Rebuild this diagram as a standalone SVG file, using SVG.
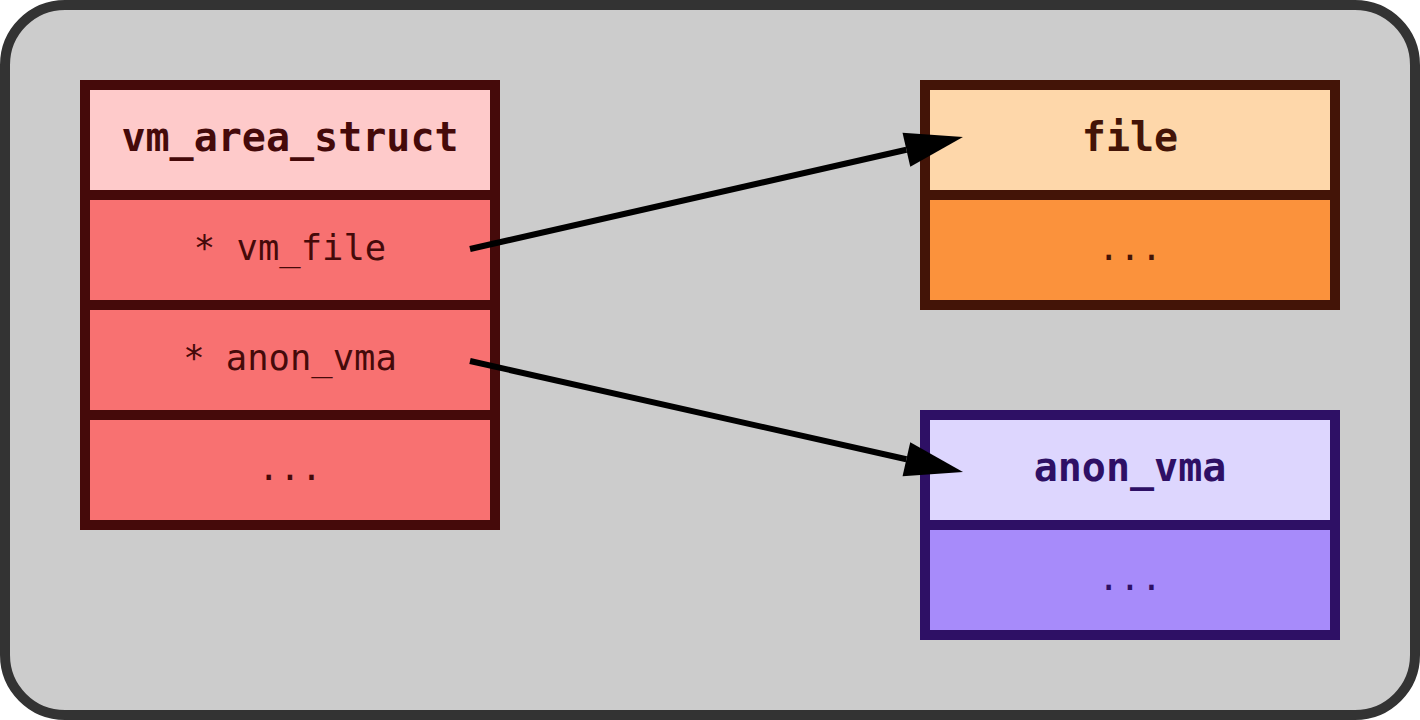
<svg xmlns="http://www.w3.org/2000/svg" width="1420" height="720" viewBox="0 0 1420 720">
<style>
.cell{stroke-width:10}
.red{stroke:#450a0a}
.org{stroke:#431407}
.vio{stroke:#2e1065}
.h{font-family:"DejaVu Sans Mono","Liberation Mono",monospace;font-weight:bold;font-size:40px;text-anchor:middle;dominant-baseline:central}
.b{font-family:"DejaVu Sans Mono","Liberation Mono",monospace;font-size:35.5px;text-anchor:middle;dominant-baseline:central}
.conn{stroke:#000;stroke-width:6;fill:none}
</style>
<defs>
<marker id="ah" markerUnits="userSpaceOnUse" markerWidth="60" markerHeight="36" refX="0" refY="17.5" orient="auto" overflow="visible">
<path d="M0,0 L58,17.5 L0,35 Z" fill="#000"/>
</marker>
</defs>
<rect x="5" y="5" width="1410" height="710" rx="60" fill="#cccccc" stroke="#333333" stroke-width="10"/>
<g id="vm_area_struct">
<rect class="cell red" x="85" y="85" width="410" height="110" fill="#fecaca"/>
<rect class="cell red" x="85" y="195" width="410" height="110" fill="#f87171"/>
<rect class="cell red" x="85" y="305" width="410" height="110" fill="#f87171"/>
<rect class="cell red" x="85" y="415" width="410" height="110" fill="#f87171"/>
<text class="h" x="290" y="137" fill="#450a0a">vm_area_struct</text>
<text class="b" x="290" y="247" fill="#450a0a">* vm_file</text>
<text class="b" x="290" y="357" fill="#450a0a">* anon_vma</text>
<text class="b" x="290" y="467" fill="#450a0a">...</text>
</g>
<g id="file">
<rect class="cell org" x="925" y="85" width="410" height="110" fill="#fed7aa"/>
<rect class="cell org" x="925" y="195" width="410" height="110" fill="#fb923c"/>
<text class="h" x="1130" y="137" fill="#431407">file</text>
<text class="b" x="1130" y="247" fill="#431407">...</text>
</g>
<g id="anon_vma">
<rect class="cell vio" x="925" y="415" width="410" height="110" fill="#ddd6fe"/>
<rect class="cell vio" x="925" y="525" width="410" height="110" fill="#a78bfa"/>
<text class="h" x="1130" y="467" fill="#2e1065">anon_vma</text>
<text class="b" x="1130" y="577" fill="#2e1065">...</text>
</g>
<g id="connectors">
<line class="conn" x1="470" y1="249" x2="906.4" y2="149.8" marker-end="url(#ah)"/>
<line class="conn" x1="470" y1="361" x2="906.4" y2="459.3" marker-end="url(#ah)"/>
</g>
</svg>
